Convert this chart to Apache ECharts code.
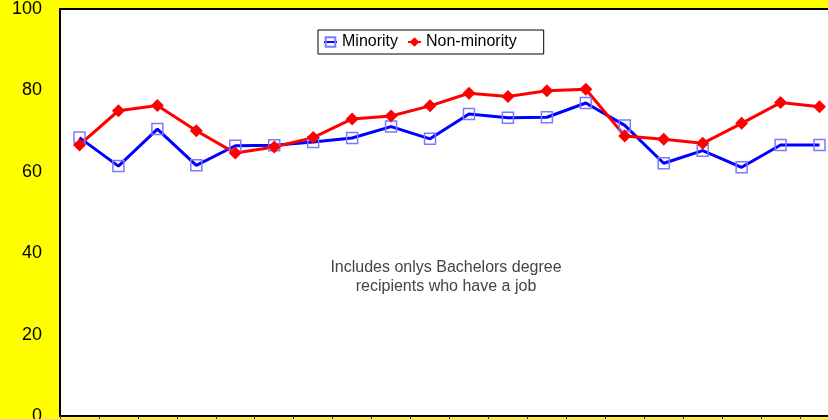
<!DOCTYPE html>
<html>
<head>
<meta charset="utf-8">
<script src="https://cdn.jsdelivr.net/npm/echarts@6/dist/echarts.min.js"></script>
<style>
  html, body { margin: 0; padding: 0; background: #ffff00; }
  #chart { width: 828px; height: 419px; }
</style>
</head>
<body>
<div id="chart"></div>
<script>
// Twenty periods along the horizontal axis
const categories = ['1','2','3','4','5','6','7','8','9','10','11','12','13','14','15','16','17','18','19','20'];

// Share (%) of employed Bachelors recipients
const minority = [68.4, 61.4, 70.5, 61.6, 66.4, 66.5, 67.3, 68.3, 71.1, 68.1, 74.2, 73.3, 73.4, 76.9, 71.4, 62.1, 65.2, 61.1, 66.6, 66.6];
const nonMinority = [66.6, 75.0, 76.3, 70.1, 64.6, 66.1, 68.4, 73.0, 73.7, 76.2, 79.3, 78.5, 79.9, 80.3, 68.8, 68.0, 67.0, 71.9, 77.0, 76.0];

const yTicks = [0, 20, 40, 60, 80, 100];

const FONT = "'Liberation Sans', Arial, sans-serif";

const chart = echarts.init(document.getElementById('chart'), null, { renderer: 'canvas' });

chart.setOption({
  backgroundColor: '#ffff00',
  animation: false,
  grid: {
    left: 60,
    top: 9,
    width: 779,
    height: 407,
    outerBoundsMode: 'none',
    containLabel: false,
    show: true,
    backgroundColor: '#ffffff',
    borderColor: '#000000',
    borderWidth: 2
  },
  legend: {
    left: 318,
    top: 30,
    orient: 'horizontal',
    backgroundColor: '#ffffff',
    borderColor: '#000000',
    borderWidth: 1,
    borderRadius: 0,
    padding: [4, 27, 4, 5],
    itemWidth: 13,
    itemHeight: 12,
    itemGap: 9,
    textStyle: { fontFamily: FONT, fontSize: 16, color: '#000000' },
    data: ['Minority', 'Non-minority']
  },
  xAxis: {
    type: 'category',
    data: categories,
    boundaryGap: true,
    axisLine: { show: true, lineStyle: { color: '#000000', width: 2 } },
    axisTick: { show: true, inside: false, length: 4, lineStyle: { color: '#333333', width: 1 } },
    axisLabel: { show: false },
    splitLine: { show: false }
  },
  yAxis: {
    type: 'value',
    min: yTicks[0],
    max: yTicks[yTicks.length - 1],
    interval: 20,
    axisLine: { show: true, lineStyle: { color: '#000000', width: 2 } },
    axisTick: { show: false },
    splitLine: { show: false },
    axisLabel: {
      margin: 18,
      fontFamily: FONT,
      fontSize: 18,
      color: '#000000',
      formatter: function (v) { return yTicks.indexOf(v) >= 0 ? String(v) : ''; }
    }
  },
  graphic: [
    {
      type: 'text',
      z: 10,
      style: {
        text: 'Includes onlys Bachelors degree\nrecipients who have a job',
        x: 446,
        y: 277,
        align: 'center',
        verticalAlign: 'middle',
        font: '16px ' + FONT,
        lineHeight: 19,
        fill: '#444444'
      }
    }
  ],
  series: [
    {
      name: 'Minority',
      type: 'line',
      data: minority,
      symbol: 'rect',
      symbolSize: 11,
      showAllSymbol: true,
      lineStyle: { color: '#0000ff', width: 3 },
      itemStyle: { color: 'rgba(255,255,255,0)', borderColor: '#7a7aff', borderWidth: 1.5 },
      emphasis: { disabled: true }
    },
    {
      name: 'Non-minority',
      type: 'line',
      data: nonMinority,
      symbol: 'diamond',
      symbolSize: 13,
      showAllSymbol: true,
      lineStyle: { color: '#ff0000', width: 3 },
      itemStyle: { color: '#ff0000', borderColor: '#ff0000', borderWidth: 0 },
      emphasis: { disabled: true }
    }
  ]
});
</script>
</body>
</html>
